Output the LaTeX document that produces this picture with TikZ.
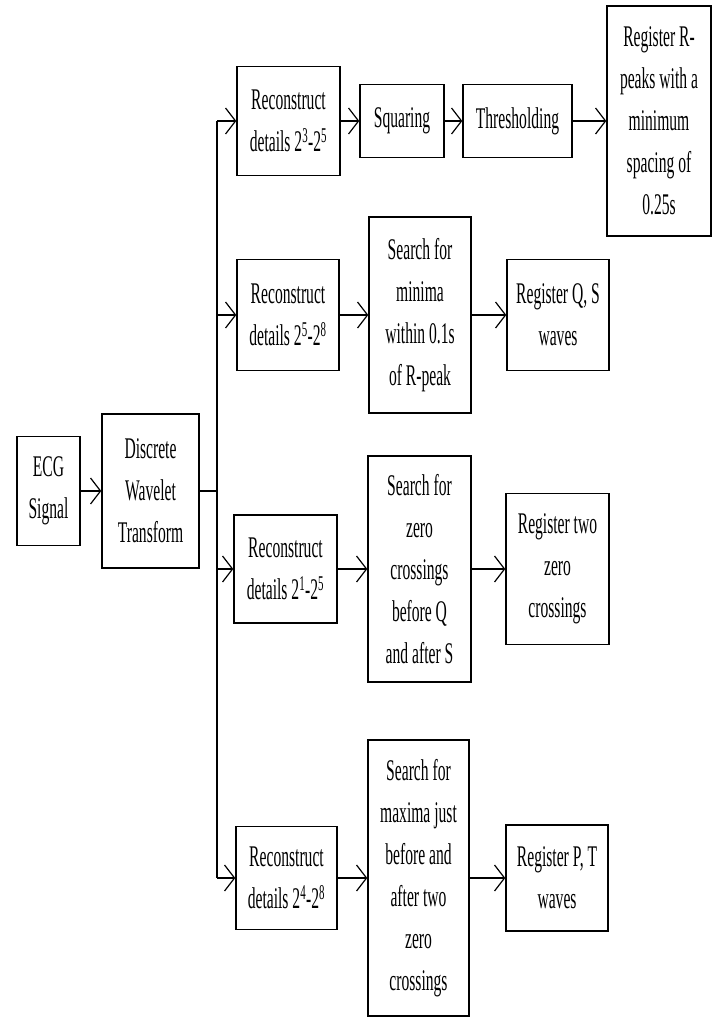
\documentclass[tikz,border=0pt]{standalone}
\usepackage{fontspec}
\setmainfont{Liberation Serif}[FakeStretch=0.52]
\usepackage{tikz}
\usetikzlibrary{arrows.meta}

\begin{document}
\begin{tikzpicture}[
			x=1pt, y=-1pt,
			box/.style={draw, line width=1.4pt, align=center, inner sep=0pt,
				font=\fontsize{30}{42}\selectfont},
			conn/.style={-{Straight Barb[length=10pt,width=26pt,line width=1.2pt]}, line width=1.4pt},
			trunk/.style={line width=1.4pt}
			]
			\useasboundingbox (0,0) rectangle (717,1017);
			
			% 输入与小波变换
			\node[box, minimum width=63, minimum height=109] (ecg) at (48.5,491) {ECG\\Signal};
			\node[box, minimum width=97, minimum height=154] (dwt) at (150.5,491) {Discrete\\Wavelet\\Transform};
			
			% 分支点（竖直干线 x=217）
			\coordinate (split) at (217,491);
			\coordinate (j1) at (217,121);
			\coordinate (j2) at (217,315);
			\coordinate (j3) at (217,569);
			\coordinate (j4) at (217,878);
			
			% 第一行：R 峰
			\node[box, minimum width=103, minimum height=109] (rec1) at (288.5,121) {Reconstruct\\details 2\textsuperscript{3}-2\textsuperscript{5}};
			\node[box, minimum width=84, minimum height=73] (sq) at (402,121) {Squaring};
			\node[box, minimum width=109, minimum height=73] (thr) at (517.5,121) {Thresholding};
			\node[box, minimum width=104, minimum height=230] (regr) at (659,121) {Register R-\\peaks with a\\minimum\\spacing of\\0.25s};
			
			% 第二行：Q, S 波
			\node[box, minimum width=102, minimum height=111] (rec2) at (288,315) {Reconstruct\\details 2\textsuperscript{5}-2\textsuperscript{8}};
			\node[box, minimum width=102, minimum height=196] (min2) at (420,315) {Search for\\minima\\within 0.1s\\of R-peak};
			\node[box, minimum width=102, minimum height=111] (regqs) at (558,315) {Register Q, S\\waves};
			
			% 第三行：过零点
			\node[box, minimum width=103, minimum height=108] (rec3) at (285.5,569) {Reconstruct\\details 2\textsuperscript{1}-2\textsuperscript{5}};
			\node[box, minimum width=103, minimum height=226] (zc3) at (419.5,569) {Search for\\zero\\crossings\\before Q\\and after S};
			\node[box, minimum width=103, minimum height=151] (regzc) at (557.5,569) {Register two\\zero\\crossings};
			
			% 第四行：P, T 波
			\node[box, minimum width=101, minimum height=103] (rec4) at (286.5,878) {Reconstruct\\details 2\textsuperscript{4}-2\textsuperscript{8}};
			\node[box, minimum width=101, minimum height=276] (max4) at (418.5,878) {Search for\\maxima just\\before and\\after two\\zero\\crossings};
			\node[box, minimum width=102, minimum height=106] (regpt) at (557,878) {Register P, T\\waves};
			
			% 连线
			\draw[conn] (ecg) -- (dwt);
			\draw[trunk] (dwt) -- (split);
			\draw[trunk] (j1) -- (j4);
			\draw[conn] (j1) -- (rec1);
			\draw[conn] (j2) -- (rec2);
			\draw[conn] (j3) -- (rec3);
			\draw[conn] (j4) -- (rec4);
			
			\draw[conn] (rec1) -- (sq);
			\draw[conn] (sq) -- (thr);
			\draw[conn] (thr) -- (regr);
			\draw[conn] (rec2) -- (min2);
			\draw[conn] (min2) -- (regqs);
			\draw[conn] (rec3) -- (zc3);
			\draw[conn] (zc3) -- (regzc);
			\draw[conn] (rec4) -- (max4);
			\draw[conn] (max4) -- (regpt);
			
		\end{tikzpicture}
\end{document}
